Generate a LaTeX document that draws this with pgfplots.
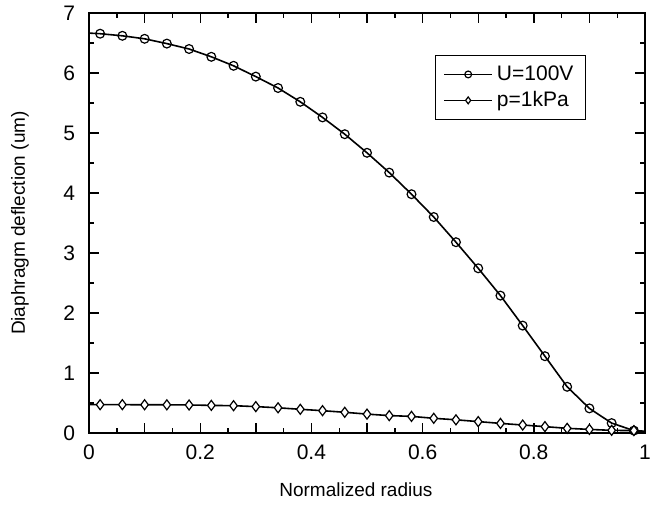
\documentclass[border=0pt]{standalone}
\usepackage{pgfplots}
\pgfplotsset{compat=1.18}
\usepackage{fontspec}
\setmainfont{Liberation Sans}
\begin{document}
\begin{tikzpicture}
\begin{axis}[
  at={(0,0)}, anchor=south west,
  scale only axis,
  width=278pt, height=210pt,
  xmin=0, xmax=1, ymin=0, ymax=7,
  xtick={0,0.1,...,1.01},
  xticklabels={0,,0.2,,0.4,,0.6,,0.8,,1},
  minor x tick num=1,
  ytick={0,1,...,7},
  minor y tick num=1,
  tick align=inside,
  major tick length=5pt,
  minor tick length=2.6pt,
  tick style={line width=0.7pt, black},
  axis line style={line width=0.8pt},
  /pgf/number format/assume math mode=true,
  tick label style={font=\fontsize{10.5}{12}\selectfont},
  xticklabel style={yshift=-2.5pt},
  yticklabel style={xshift=-3.5pt},
  xlabel={Normalized radius},
  ylabel={Diaphragm deflection (um)},
  label style={font=\fontsize{9.5}{11}\selectfont},
  x label style={at={(axis description cs:0.48,-0.136)}, anchor=center},
  y label style={at={(axis description cs:-0.124,0.5)}, anchor=center},
  legend style={at={(0.894,0.9)}, anchor=north east, draw=black, line width=0.6pt,
     font=\fontsize{10.5}{12}\selectfont, inner xsep=4pt, inner ysep=3pt, row sep=0pt,
     /tikz/every even column/.append style={column sep=3pt}},
  legend cell align=left,
  legend image code/.code={%
    \draw[#1, mark=none] (0pt,0pt) -- (24pt,0pt);
    \draw[#1, mark indices={1}, mark size=1.7pt] plot coordinates {(12pt,0pt)};},
]
\addplot[black, line width=0.8pt, mark=o, mark size=2.2pt, mark options={fill=white, line width=0.6pt}, mark indices={2,...,26}]
coordinates {
(0,6.665) (0.02,6.655) (0.06,6.62) (0.10,6.57) (0.14,6.49) (0.18,6.40) (0.22,6.27)
(0.26,6.12) (0.30,5.94) (0.34,5.75) (0.38,5.52) (0.42,5.26) (0.46,4.98) (0.50,4.67)
(0.54,4.34) (0.58,3.98) (0.62,3.60) (0.66,3.18) (0.70,2.745) (0.74,2.29) (0.78,1.79)
(0.82,1.28) (0.86,0.77) (0.90,0.41) (0.94,0.165) (0.98,0.04) (1.0,0.01)
};
\addlegendentry{U=100V}
\addplot[black, line width=0.8pt, mark=diamond*, mark size=2.5pt, mark options={fill=white, line width=0.6pt}, mark indices={2,...,26}]
coordinates {
(0,0.472) (0.02,0.472) (0.06,0.472) (0.10,0.471) (0.14,0.470) (0.18,0.467) (0.22,0.46)
(0.26,0.455) (0.30,0.44) (0.34,0.42) (0.38,0.395) (0.42,0.372) (0.46,0.345) (0.50,0.315)
(0.54,0.29) (0.58,0.277) (0.62,0.245) (0.66,0.22) (0.70,0.19) (0.74,0.16) (0.78,0.133)
(0.82,0.106) (0.86,0.078) (0.90,0.06) (0.94,0.044) (0.98,0.04) (1.0,0.03)
};
\addlegendentry{p=1kPa}
\end{axis}
\pgfresetboundingbox
\path[use as bounding box] (-44.5pt,-36.5pt) rectangle (283.5pt,216.5pt);
\end{tikzpicture}
\end{document}
